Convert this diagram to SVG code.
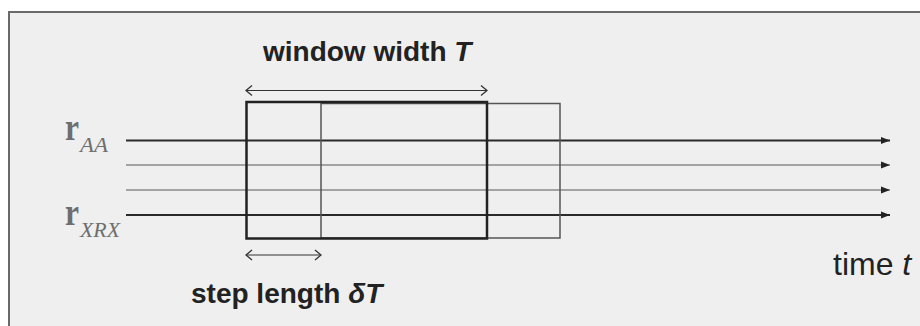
<svg xmlns="http://www.w3.org/2000/svg" width="920" height="326" viewBox="0 0 920 326">
  <style>
    .lbl { font-family: "Liberation Sans", Arial, sans-serif; fill: #222; }
    .bold { font-weight: bold; font-size: 28px; }
    .sym { font-family: "Liberation Serif", "Times New Roman", serif; fill: #6e6e6e; }
    .series-dark { stroke: #2a2a2a; stroke-width: 2; fill: none; }
    .series-light { stroke: #8a8a8a; stroke-width: 1.6; fill: none; }
    .dim { stroke: #333; stroke-width: 1.2; fill: none; }
  </style>
  <defs>
    <marker id="solidHead" markerWidth="10" markerHeight="8" refX="9" refY="4" orient="auto" markerUnits="userSpaceOnUse">
      <path d="M0,0.5 L9,4 L0,7.5 Z" fill="#222"/>
    </marker>
    <marker id="openHead" markerWidth="8" markerHeight="12" refX="7" refY="6" orient="auto-start-reverse" markerUnits="userSpaceOnUse">
      <path d="M1,1 L7,6 L1,11" fill="none" stroke="#333" stroke-width="1.3"/>
    </marker>
  </defs>

  <!-- page background and frame -->
  <rect x="0" y="0" width="920" height="326" fill="#ffffff"/>
  <rect x="9" y="12" width="930" height="330" fill="#efefef" stroke="#6a6a6a" stroke-width="2"/>

  <!-- time series axes and dimension arrows -->
  <g id="connectors">
    <line class="series-dark" x1="126" y1="140.5" x2="890" y2="140.5" marker-end="url(#solidHead)"/>
    <line class="series-light" x1="126" y1="165" x2="890" y2="165" marker-end="url(#solidHead)"/>
    <line class="series-light" x1="126" y1="190" x2="890" y2="190" marker-end="url(#solidHead)"/>
    <line class="series-dark" x1="126" y1="215" x2="890" y2="215" marker-end="url(#solidHead)"/>
    <line class="dim" x1="246" y1="90.5" x2="487" y2="90.5" marker-start="url(#openHead)" marker-end="url(#openHead)"/>
    <line class="dim" x1="246" y1="255" x2="321" y2="255" marker-start="url(#openHead)" marker-end="url(#openHead)"/>
  </g>

  <!-- shifted window -->
  <g id="window-next">
    <rect x="321" y="103.5" width="239" height="134.5" fill="none" stroke="#555" stroke-width="1.5"/>
  </g>

  <!-- current window -->
  <g id="window-current">
    <rect x="246.5" y="102" width="240.5" height="136.5" fill="none" stroke="#222" stroke-width="2.5"/>
  </g>

  <!-- series labels -->
  <g id="label-rAA">
    <text class="sym" x="65" y="140" font-size="37" font-weight="bold" textLength="14" lengthAdjust="spacingAndGlyphs">r</text>
    <text class="sym" x="80" y="152" font-size="20" font-style="italic" textLength="28" lengthAdjust="spacingAndGlyphs">AA</text>
  </g>
  <g id="label-rXRX">
    <text class="sym" x="65" y="225" font-size="37" font-weight="bold" textLength="14" lengthAdjust="spacingAndGlyphs">r</text>
    <text class="sym" x="80" y="237" font-size="20" font-style="italic" textLength="40" lengthAdjust="spacingAndGlyphs">XRX</text>
  </g>

  <g id="label-window">
    <text class="lbl bold" x="263" y="61">window width <tspan font-style="italic">T</tspan></text>
  </g>
  <g id="label-step">
    <text class="lbl bold" x="191" y="303">step length <tspan font-style="italic">δT</tspan></text>
  </g>
  <g id="label-time">
    <text class="lbl" x="833" y="275" font-size="32">time <tspan font-style="italic">t</tspan></text>
  </g>
</svg>
